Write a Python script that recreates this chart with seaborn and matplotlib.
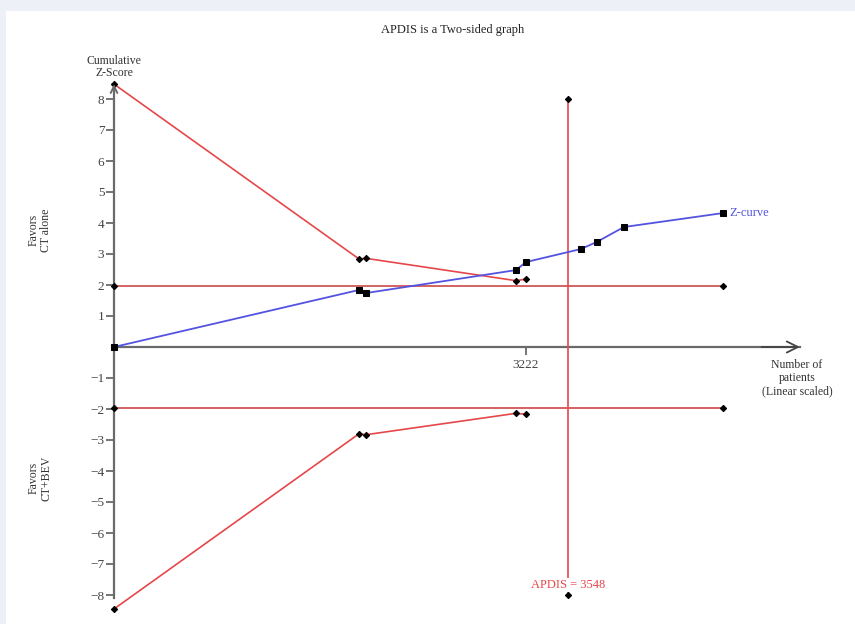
import matplotlib
matplotlib.use("Agg")
import matplotlib.pyplot as plt
import pandas as pd
import seaborn as sns
from matplotlib.patches import Rectangle

# Cumulative Z-curve (patients accrued vs cumulative Z-score)
patients = [0, 1916, 1970, 3143, 3222, 3651, 3776, 3988, 4762]
z_curve = [0.0, 1.84, 1.74, 2.48, 2.74, 3.16, 3.39, 3.87, 4.32]

# Trial sequential monitoring boundaries
boundary_patients = [0, 1916, 1970, 3143, 3222]
upper_boundary = [8.48, 2.84, 2.86, 2.14, 2.19]
lower_boundary = [-8.45, -2.80, -2.83, -2.14, -2.17]

# Conventional significance lines
conventional_z = [1.96, -1.96]
conventional_span = [0, 4762]

# Required information size
apdis = 3548
apdis_span = [-8.0, 8.0]

x_ticks = [3222]
y_ticks = [-8, -7, -6, -5, -4, -3, -2, -1, 1, 2, 3, 4, 5, 6, 7, 8]
x_axis_end = 5364

sns.set_theme(style="white")
plt.rcParams["font.family"] = ["Liberation Serif", "DejaVu Serif"]

RED = "#e5474b"
BLUE = "#5353e0"
AXIS = "#6a6a6a"

W, H = 855, 624
fig = plt.figure(figsize=(W / 100, H / 100), dpi=100, facecolor="#eef0f7")
fig.patches.append(Rectangle((6 / W, 0), 1, (H - 11) / H, transform=fig.transFigure,
                             facecolor="white", edgecolor="none", zorder=-10))

# axes box in pixels: x 100..840, y 60..620 (from top)
ax = fig.add_axes([100 / W, (H - 620) / H, 740 / W, 560 / H])
ax.set_zorder(2)
ax.set_facecolor("none")
k = 412 / 3222.0
ax.set_xlim((100 - 114) / k, (840 - 114) / k)
ax.set_ylim((347 - 620) / 31.0, (347 - 60) / 31.0)

common = dict(estimator=None, sort=False, ax=ax, clip_on=False)

# conventional boundaries
for zc in conventional_z:
    df = pd.DataFrame({"n": conventional_span, "z": [zc, zc]})
    sns.lineplot(data=df, x="n", y="z", color="#cc4848", lw=1.2, marker="D", ms=3.2,
                 mfc="black", mec="black", **common)

# monitoring boundaries
for b in (upper_boundary, lower_boundary):
    df = pd.DataFrame({"n": boundary_patients, "z": b})
    sns.lineplot(data=df, x="n", y="z", color=RED, lw=1.2, marker="D", ms=3.2,
                 mfc="black", mec="black", **common)

# APDIS vertical line
df = pd.DataFrame({"n": [apdis, apdis], "z": apdis_span})
sns.lineplot(data=df, x="n", y="z", color=RED, lw=1.2, marker="D", ms=3.2,
             mfc="black", mec="black", **common)

# Z-curve
df = pd.DataFrame({"n": patients, "z": z_curve})
sns.lineplot(data=df, x="n", y="z", color=BLUE, lw=1.3, marker="s", ms=4.2,
             mfc="black", mec="black", zorder=5, **common)

# axes through origin
for side in ("top", "right"):
    ax.spines[side].set_visible(False)
ax.spines["left"].set_position(("data", 0))
ax.spines["bottom"].set_position(("data", 0))
ax.spines["left"].set_bounds(-8.1, 8.3)
ax.spines["bottom"].set_bounds(0, x_axis_end)
for side in ("left", "bottom"):
    ax.spines[side].set_color(AXIS)
    ax.spines[side].set_linewidth(1.6)
    ax.spines[side].set_zorder(1)

ax.set_yticks(y_ticks)
ax.set_yticklabels([f"\u2212{abs(t)}" if t < 0 else str(t) for t in y_ticks])
ax.set_xticks(x_ticks)
ax.set_xticklabels([str(t) for t in x_ticks])
ax.tick_params(axis="both", which="major", direction="out", length=6, width=1.3,
               color=AXIS, labelcolor="#444444", labelsize=9.5,
               left=True, bottom=True, top=False, right=False)
ax.tick_params(axis="y", pad=1)
ax.tick_params(axis="x", pad=3)
ax.set_xlabel("")
ax.set_ylabel("")

ax.annotate("", xy=(x_axis_end, 0), xytext=(x_axis_end - 300, 0),
            arrowprops=dict(arrowstyle="->", color="#444444", lw=1.3, mutation_scale=20,
                            shrinkA=0, shrinkB=0))
ax.annotate("", xy=(0, 8.48), xytext=(0, 8.0),
            arrowprops=dict(arrowstyle="->", color=AXIS, lw=1.4, mutation_scale=12,
                            shrinkA=0, shrinkB=0))

# labels
fig.text(453 / W, 1 - 30 / H, "APDIS is a Two-sided graph", ha="center", va="center",
         fontsize=9, color="#222222")
fig.text(114 / W, 1 - 67 / H, "Cumulative\nZ-Score", ha="center", va="center",
         fontsize=8.5, color="#333333", linespacing=1.0)
fig.text(40 / W, 1 - 230 / H, "Favors\nCT alone", ha="center", va="center", rotation=90,
         fontsize=8.5, color="#333333", linespacing=1.1)
fig.text(40 / W, 1 - 478 / H, "Favors\nCT+BEV", ha="center", va="center", rotation=90,
         fontsize=8.5, color="#333333", linespacing=1.1)
fig.text(797 / W, 1 - 378 / H, "Number of\npatients\n(Linear scaled)", ha="center",
         va="center", fontsize=8.5, color="#333333", linespacing=1.15)

ax.annotate("Z-curve", xy=(patients[-1], z_curve[-1]), xytext=(5, 0),
            textcoords="offset points", ha="left", va="center", color=BLUE, fontsize=9)
ax.text(apdis, -7.68, f"APDIS = {apdis}", ha="center", va="center", color=RED,
        fontsize=9, zorder=6,
        bbox=dict(boxstyle="square,pad=0.05", facecolor="white", edgecolor="none"))

fig.savefig("out.png", dpi=100, facecolor=fig.get_facecolor())
